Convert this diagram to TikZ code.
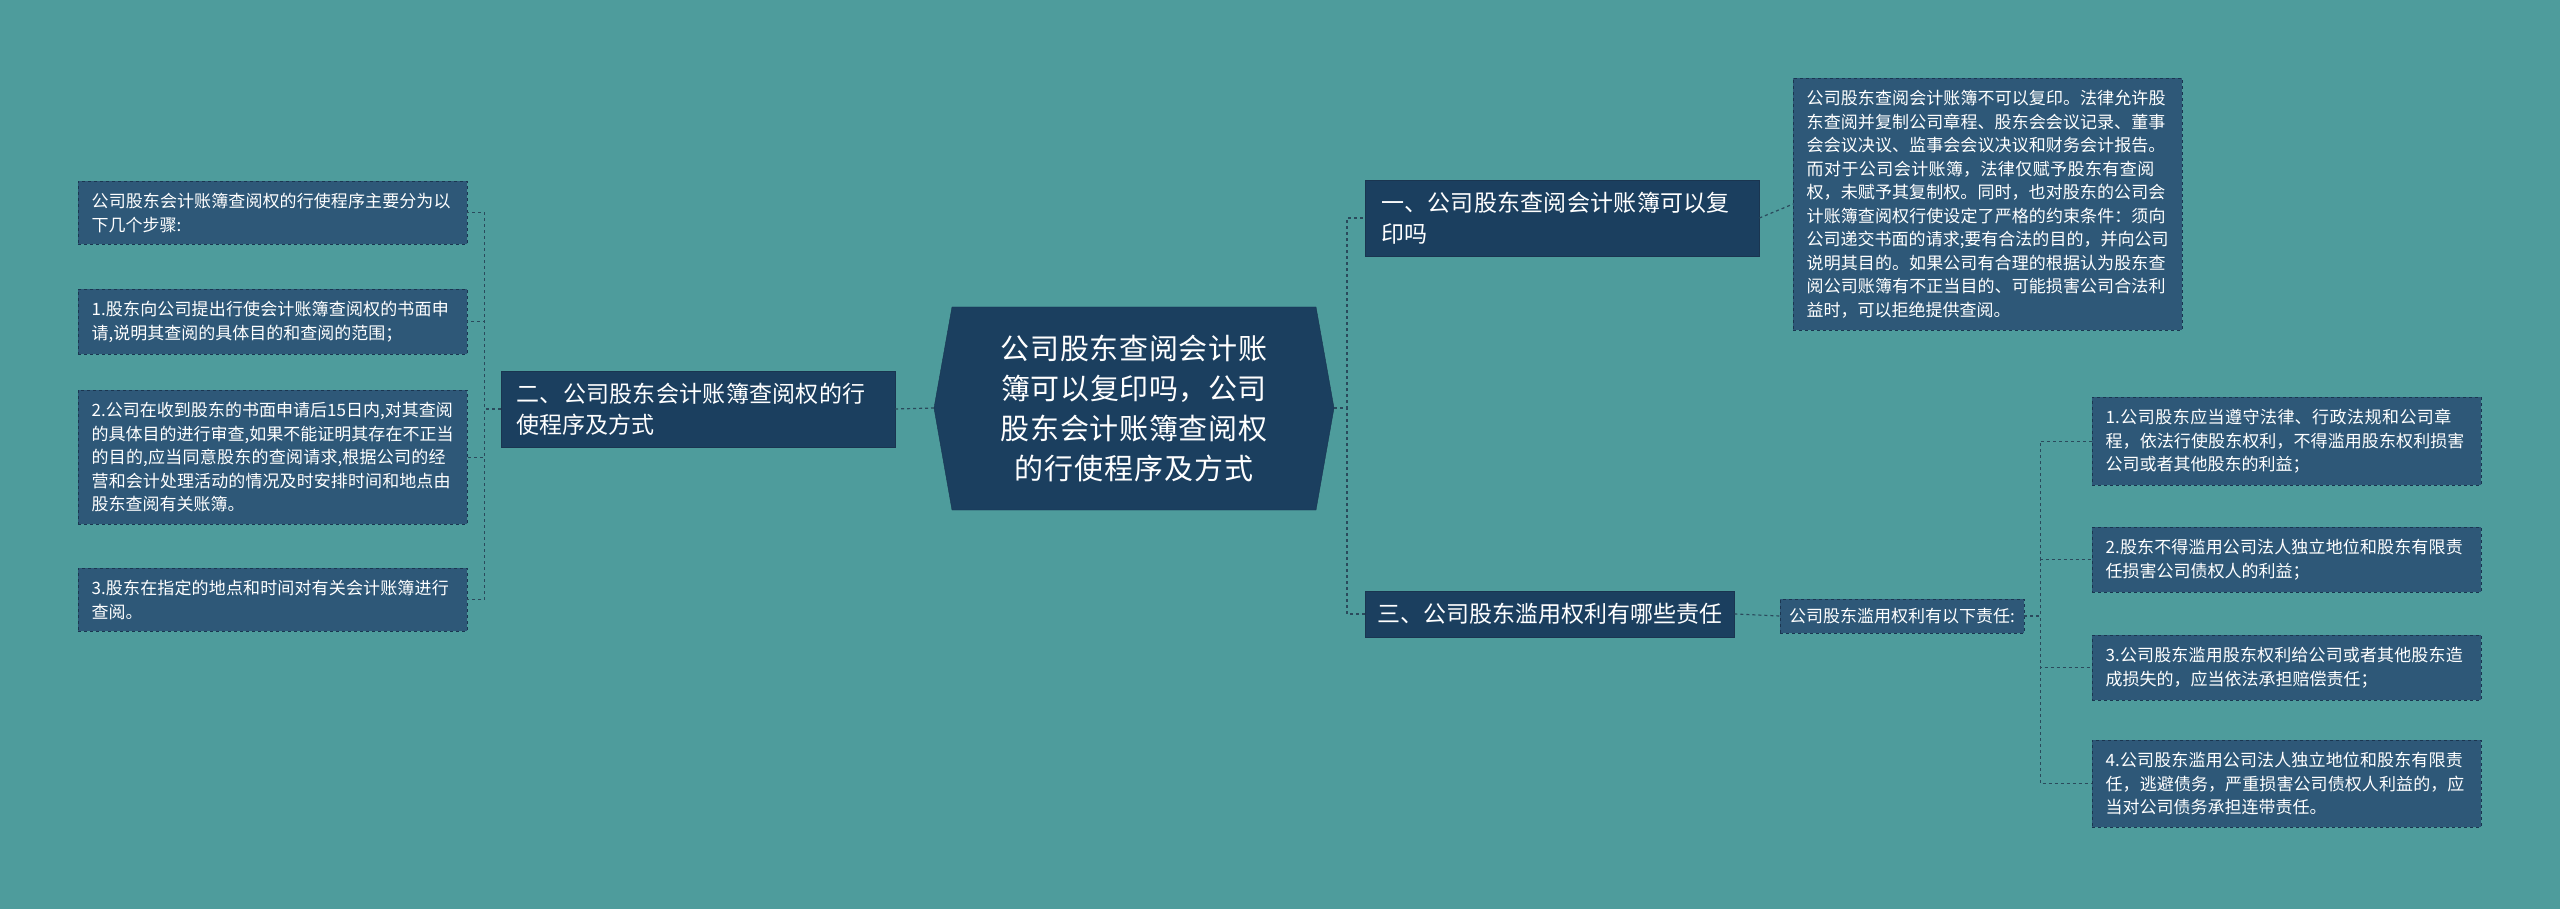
\documentclass[tikz,border=0pt]{standalone}
\usepackage{fontspec}
\setmainfont{Noto Sans CJK SC}
\XeTeXlinebreaklocale "zh"
\XeTeXlinebreakskip=0pt plus 1pt
\begin{document}
\begin{tikzpicture}[x=1pt,y=-1pt,
  boxbase/.style={draw=navyb,text=white,align=left,inner sep=12pt},
  leaf/.style={boxbase,dashed,fill=boxf,font=\fontsize{17}{23.5}\selectfont,text width=362pt,minimum width=389pt,anchor=north west},
  smallbox/.style={boxbase,dashed,fill=boxf,font=\fontsize{17}{23.5}\selectfont,inner sep=9pt,anchor=west},
  branch/.style={boxbase,fill=branchf,font=\fontsize{23}{31}\selectfont,text width=362pt,minimum width=394pt,anchor=west},
  branchs/.style={boxbase,fill=branchf,font=\fontsize{23}{31}\selectfont,anchor=west},
  conn/.style={draw=linec,dashed,line width=1.2pt}]
\definecolor{bg}{HTML}{4E9C9C}
\definecolor{boxf}{HTML}{2E5878}
\definecolor{branchf}{HTML}{1B3F5F}
\definecolor{navyb}{HTML}{1A3550}
\definecolor{linec}{HTML}{2A4A5C}
\fill[bg] (0,0) rectangle (2560,909);
\useasboundingbox (0,0) rectangle (2560,909);
% center
\fill[branchf,draw=navyb] (952,307) -- (1316,307) -- (1334,408) -- (1316,510) -- (952,510) -- (934,408) -- cycle;
\node[text=white,font=\fontsize{29}{40}\selectfont,align=center,text width=340pt] (c) at (1134,408) {公司股东查阅会计账簿可以复印吗，公司股东会计账簿查阅权的行使程序及方式};
\coordinate (cl) at (934,408);
\coordinate (cr) at (1334,408);
% left branch
\node[branch,anchor=east] (b2) at (895,409) {二、公司股东会计账簿查阅权的行使程序及方式};
\node[leaf] (l0) at (78,181) {公司股东会计账簿查阅权的行使程序主要分为以下几个步骤:};
\node[leaf] (l1) at (78,289) {1.股东向公司提出行使会计账簿查阅权的书面申请,说明其查阅的具体目的和查阅的范围；};
\node[leaf] (l2) at (78,390) {2.公司在收到股东的书面申请后15日内,对其查阅的具体目的进行审查,如果不能证明其存在不正当的目的,应当同意股东的查阅请求,根据公司的经营和会计处理活动的情况及时安排时间和地点由股东查阅有关账簿。};
\node[leaf] (l3) at (78,568) {3.股东在指定的地点和时间对有关会计账簿进行查阅。};
% right branches
\node[branch] (b1) at (1365,218) {一、公司股东查阅会计账簿可以复印吗};
\node[branchs] (b3) at (1365,614) {三、公司股东滥用权利有哪些责任};
\node[leaf] (r0) at (1793,78) {公司股东查阅会计账簿不可以复印。法律允许股东查阅并复制公司章程、股东会会议记录、董事会会议决议、监事会会议决议和财务会计报告。而对于公司会计账簿，法律仅赋予股东有查阅权，未赋予其复制权。同时，也对股东的公司会计账簿查阅权行使设定了严格的约束条件：须向公司递交书面的请求;要有合法的目的，并向公司说明其目的。如果公司有合理的根据认为股东查阅公司账簿有不正当目的、可能损害公司合法利益时，可以拒绝提供查阅。};
\node[smallbox] (m3) at (1780,616) {公司股东滥用权利有以下责任:};
\node[leaf] (s1) at (2092,397) {1.公司股东应当遵守法律、行政法规和公司章程，依法行使股东权利，不得滥用股东权利损害公司或者其他股东的利益；};
\node[leaf] (s2) at (2092,527) {2.股东不得滥用公司法人独立地位和股东有限责任损害公司债权人的利益；};
\node[leaf] (s3) at (2092,635) {3.公司股东滥用股东权利给公司或者其他股东造成损失的，应当依法承担赔偿责任；};
\node[leaf] (s4) at (2092,740) {4.公司股东滥用公司法人独立地位和股东有限责任，逃避债务，严重损害公司债权人利益的，应当对公司债务承担连带责任。};
% connectors
\draw[conn] (cl) -- (b2.east);
\foreach \n in {l0,l1,l2,l3} \draw[conn] (b2.west) -- ++(-16,0) |- (\n.east);
\foreach \n in {b1,b3} \draw[conn] (cr) -- ++(13,0) |- (\n.west);
\draw[conn] (b1.east) -- (r0.west);
\draw[conn] (b3.east) -- (m3.west);
\foreach \n in {s1,s2,s3,s4} \draw[conn] (m3.east) -- ++(16,0) |- (\n.west);
\end{tikzpicture}
\end{document}
